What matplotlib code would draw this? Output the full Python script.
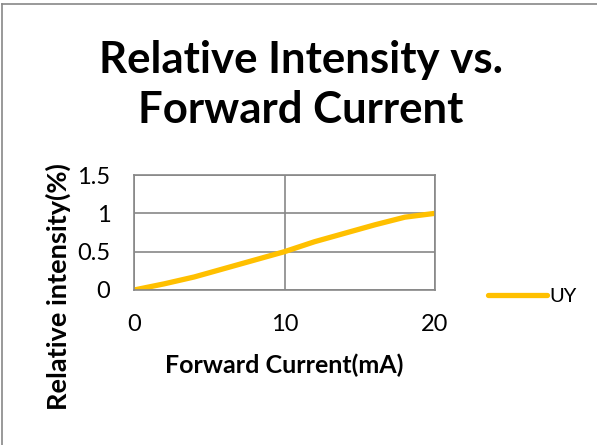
import matplotlib.pyplot as plt
from matplotlib.lines import Line2D

current = [0, 2, 4, 6, 8, 10, 12, 14, 16, 18, 20]
intensity = [0, 0.08, 0.17, 0.28, 0.39, 0.5, 0.63, 0.74, 0.85, 0.95, 1.0]
series_name = 'UY'
x_ticks = [0, 10, 20]
y_ticks = [0, 0.5, 1, 1.5]
y_tick_labels = ['0', '0.5', '1', '1.5']

plt.rcParams['font.family'] = ['Lato', 'DejaVu Sans']

W, H = 597, 445
fig = plt.figure(figsize=(W / 100, H / 100), dpi=100)

# plot area in pixels: left 134, right 435, top 175, bottom 290
ax = fig.add_axes((134 / W, 1 - 290 / H, (435 - 134) / W, (290 - 175) / H))
ax.plot(current, intensity, color='#FFC000', lw=3.8, solid_capstyle='round',
        solid_joinstyle='round')
ax.set_xlim(0, 20)
ax.set_ylim(0, 1.5)
ax.set_xticks(x_ticks)
ax.set_yticks(y_ticks)
ax.set_yticklabels(y_tick_labels)
ax.grid(True, color='#878787', lw=1.2)
ax.set_axisbelow(True)
for s in ax.spines.values():
    s.set_color('#878787')
    s.set_linewidth(1.2)
ax.tick_params(axis='y', length=0, labelsize=17, colors='black', pad=17)
ax.tick_params(axis='x', length=0, labelsize=17, colors='black', pad=17)

fig.text(301 / W, 1 - 60 / H, 'Relative Intensity vs.', ha='center', va='center',
         fontsize=31.5, fontweight='bold')
fig.text(301 / W, 1 - 110 / H, 'Forward Current', ha='center', va='center',
         fontsize=31.5, fontweight='bold')
fig.text(284 / W, 1 - 365 / H, 'Forward Current(mA)', ha='center', va='center',
         fontsize=18, fontweight='bold')
fig.text(58 / W, 1 - 287 / H, 'Relative intensity(%)', ha='center', va='center',
         fontsize=19.5, fontweight='bold', rotation=90)

handle = Line2D([], [], color='#FFC000', lw=3.8, solid_capstyle='round')
fig.legend([handle], [series_name], loc='center left', bbox_to_anchor=(470 / W, 1 - 296 / H),
           frameon=False, fontsize=14.5, handlelength=2.9, handletextpad=0.15)

# chart border (only top and left visible)
fig.add_artist(Line2D([2 / W, 2 / W], [0, 1 - 4 / H], color='#878787', lw=1.2))
fig.add_artist(Line2D([2 / W, 1], [1 - 4 / H, 1 - 4 / H], color='#878787', lw=1.2))

fig.savefig('out.png', dpi=100)
